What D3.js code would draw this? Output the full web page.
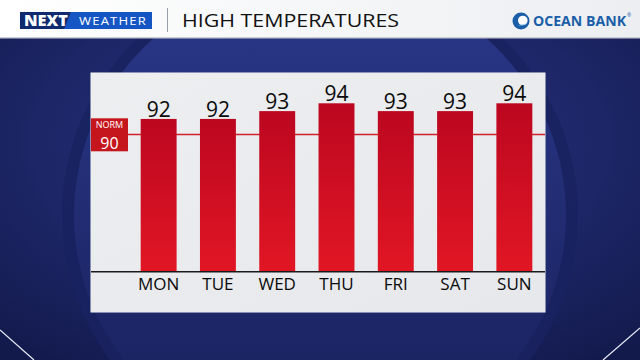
<!DOCTYPE html>
<html>
<head>
<meta charset="utf-8">
<title>High Temperatures</title>
<script src="https://d3js.org/d3.v7.min.js"></script>
<style>
    body { margin: 0; padding: 0; background: #1b2463; }
    svg { display: block; }
    text { font-family: "Open Sans", "DejaVu Sans", sans-serif; }
</style>
</head>
<body>
<script>
    // chart data
    var days = ["MON", "TUE", "WED", "THU", "FRI", "SAT", "SUN"];
    var highs = [92, 92, 93, 94, 93, 93, 94];
    var normal = 90;
    var title = "HIGH TEMPERATURES";

    var w = 640, h = 360;

    var svg = d3.select("body").append("svg")
        .attr("width", w)
        .attr("height", h);

    var defs = svg.append("defs");

    // background gradients
    var bg = defs.append("radialGradient").attr("id", "bg")
        .attr("cx", "50%").attr("cy", "40%").attr("r", "75%");
    bg.append("stop").attr("offset", "0%").attr("stop-color", "#27337f");
    bg.append("stop").attr("offset", "60%").attr("stop-color", "#1d2666");
    bg.append("stop").attr("offset", "100%").attr("stop-color", "#121a4c");

    var disc = defs.append("linearGradient").attr("id", "disc")
        .attr("x1", 0).attr("y1", 0).attr("x2", 0).attr("y2", 1);
    disc.append("stop").attr("offset", "0%").attr("stop-color", "#2a388a");
    disc.append("stop").attr("offset", "100%").attr("stop-color", "#18205a");

    var barGrad = defs.append("linearGradient").attr("id", "bar")
        .attr("x1", 0).attr("y1", 0).attr("x2", 0).attr("y2", 1);
    barGrad.append("stop").attr("offset", "0%").attr("stop-color", "#bc0720");
    barGrad.append("stop").attr("offset", "100%").attr("stop-color", "#e11624");

    var head = defs.append("linearGradient").attr("id", "head")
        .attr("x1", 0).attr("y1", 0).attr("x2", 1).attr("y2", 0);
    head.append("stop").attr("offset", "0%").attr("stop-color", "#ffffff");
    head.append("stop").attr("offset", "100%").attr("stop-color", "#eceef1");

    var panelGrad = defs.append("linearGradient").attr("id", "panel")
        .attr("x1", 0).attr("y1", 0).attr("x2", 1).attr("y2", 1);
    panelGrad.append("stop").attr("offset", "0%").attr("stop-color", "#eceef0");
    panelGrad.append("stop").attr("offset", "100%").attr("stop-color", "#e6e8eb");

    svg.append("rect").attr("width", w).attr("height", h).attr("fill", "url(#bg)");

    // big soft circles behind the panel
    svg.append("ellipse")
        .attr("cx", 320).attr("cy", 215).attr("rx", 258).attr("ry", 250)
        .attr("fill", "#1a2260").attr("opacity", 0.9);
    svg.append("ellipse")
        .attr("cx", 320).attr("cy", 215).attr("rx", 246).attr("ry", 240)
        .attr("fill", "url(#disc)");

    // thin white diagonals bottom corners
    svg.append("line").attr("x1", 0).attr("y1", 330).attr("x2", 34).attr("y2", 360)
        .attr("stroke", "#e8ecf6").attr("stroke-width", 1.2);
    svg.append("line").attr("x1", 640).attr("y1", 328).attr("x2", 603).attr("y2", 360)
        .attr("stroke", "#e8ecf6").attr("stroke-width", 1.2);

    // header bar
    svg.append("rect").attr("width", w).attr("height", 38).attr("fill", "url(#head)");
    svg.append("rect").attr("y", 37).attr("width", w).attr("height", 1.5).attr("fill", "#c9ccd3");

    // NEXT WEATHER logo
    svg.append("rect").attr("x", 20).attr("y", 12).attr("width", 132).attr("height", 17).attr("fill", "#1656c4");
    svg.append("path").attr("d", "M20,12 L71,12 L64,29 L20,29 Z").attr("fill", "#0f2a6e");
    svg.append("text").attr("x", 24).attr("y", 26)
        .attr("fill", "#fff").attr("font-size", 15).attr("font-weight", 800)
        .attr("font-family", "'DejaVu Sans', sans-serif")
        .attr("textLength", 44).attr("lengthAdjust", "spacingAndGlyphs")
        .text("NEXT");
    svg.append("text").attr("x", 79).attr("y", 25)
        .attr("fill", "#fff").attr("font-size", 11).attr("letter-spacing", 1)
        .attr("textLength", 68).attr("lengthAdjust", "spacingAndGlyphs")
        .text("WEATHER");

    svg.append("rect").attr("x", 167).attr("y", 8).attr("width", 1).attr("height", 24).attr("fill", "#9aa0ab");

    svg.append("text").attr("x", 182).attr("y", 27)
        .attr("fill", "#111").attr("font-size", 19).attr("font-weight", 500)
        .attr("textLength", 217).attr("lengthAdjust", "spacingAndGlyphs")
        .text(title);

    // Ocean Bank logo
    var ob = svg.append("g").attr("transform", "translate(521,21)");
    ob.append("circle").attr("r", 8.5).attr("fill", "#1a5ea8");
    ob.append("circle").attr("r", 4.8).attr("cx", 1.8).attr("cy", -0.5).attr("fill", "#fff");
    ob.append("path").attr("d", "M-3,4 Q2,6 7,1 Q4,4 -3,4 Z").attr("fill", "#6fb2e6");
    svg.append("text").attr("x", 533).attr("y", 26)
        .attr("fill", "#1a5ea8").attr("font-size", 14).attr("font-weight", 700)
        .attr("textLength", 93).attr("lengthAdjust", "spacingAndGlyphs")
        .text("OCEAN BANK");
    svg.append("text").attr("x", 627).attr("y", 17).attr("fill", "#1a5ea8").attr("font-size", 5).text("®");

    // chart panel
    var panel = { x: 91, y: 73, w: 454, h: 239 };
    svg.append("rect")
        .attr("x", panel.x - 0.5).attr("y", panel.y - 0.5)
        .attr("width", panel.w + 1).attr("height", panel.h + 1)
        .attr("fill", "#f4f5f7");
    svg.append("rect")
        .attr("x", panel.x).attr("y", panel.y)
        .attr("width", panel.w).attr("height", panel.h)
        .attr("fill", "url(#panel)");

    var x = d3.scaleBand()
        .domain(days)
        .range([129, 544])
        .paddingInner(0.394)
        .paddingOuter(0.197);

    var y = d3.scaleLinear()
        .domain([72.5, 94])
        .range([271.3, 103.3]);

    // normal line
    svg.append("line")
        .attr("x1", 128).attr("x2", panel.x + panel.w)
        .attr("y1", y(normal)).attr("y2", y(normal))
        .attr("stroke", "#d1202b").attr("stroke-width", 1.6);

    // bars
    svg.selectAll("rect.bar")
        .data(highs)
        .enter().append("rect")
        .attr("class", "bar")
        .attr("x", function(d, i) { return x(days[i]); })
        .attr("width", x.bandwidth())
        .attr("y", function(d) { return y(d); })
        .attr("height", function(d) { return y.range()[0] - y(d); })
        .attr("fill", "url(#bar)");

    // value labels
    svg.selectAll("text.val")
        .data(highs)
        .enter().append("text")
        .attr("class", "val")
        .attr("x", function(d, i) { return x(days[i]) + x.bandwidth() / 2; })
        .attr("y", function(d) { return y(d) - 2; })
        .attr("text-anchor", "middle")
        .attr("font-size", 21)
        .attr("font-weight", 500)
        .attr("fill", "#0a0a0a")
        .text(function(d) { return d; });

    // baseline
    svg.append("line")
        .attr("x1", panel.x).attr("x2", panel.x + panel.w)
        .attr("y1", 271.8).attr("y2", 271.8)
        .attr("stroke", "#1a1a1a").attr("stroke-width", 1.6);

    // day axis
    var xAxis = d3.axisBottom(x).tickSize(0).tickPadding(0);
    var ax = svg.append("g").attr("transform", "translate(0,274)").call(xAxis);
    ax.select(".domain").remove();
    ax.selectAll("text")
        .attr("dy", 0).attr("y", 16)
        .attr("font-size", 17)
        .attr("font-weight", 500)
        .attr("font-family", "'Open Sans', 'DejaVu Sans', sans-serif")
        .attr("fill", "#0a0a0a");

    // NORM box
    var nb = svg.append("g");
    nb.append("rect").attr("x", 91).attr("y", 118.3).attr("width", 37).attr("height", 33).attr("fill", "#c5161d");
    nb.append("text").attr("x", 109.5).attr("y", 128).attr("text-anchor", "middle")
        .attr("fill", "#fff").attr("font-size", 9).text("NORM");
    nb.append("text").attr("x", 109.5).attr("y", 149).attr("text-anchor", "middle")
        .attr("fill", "#fff").attr("font-size", 16).text(normal);
</script>
</body>
</html>
